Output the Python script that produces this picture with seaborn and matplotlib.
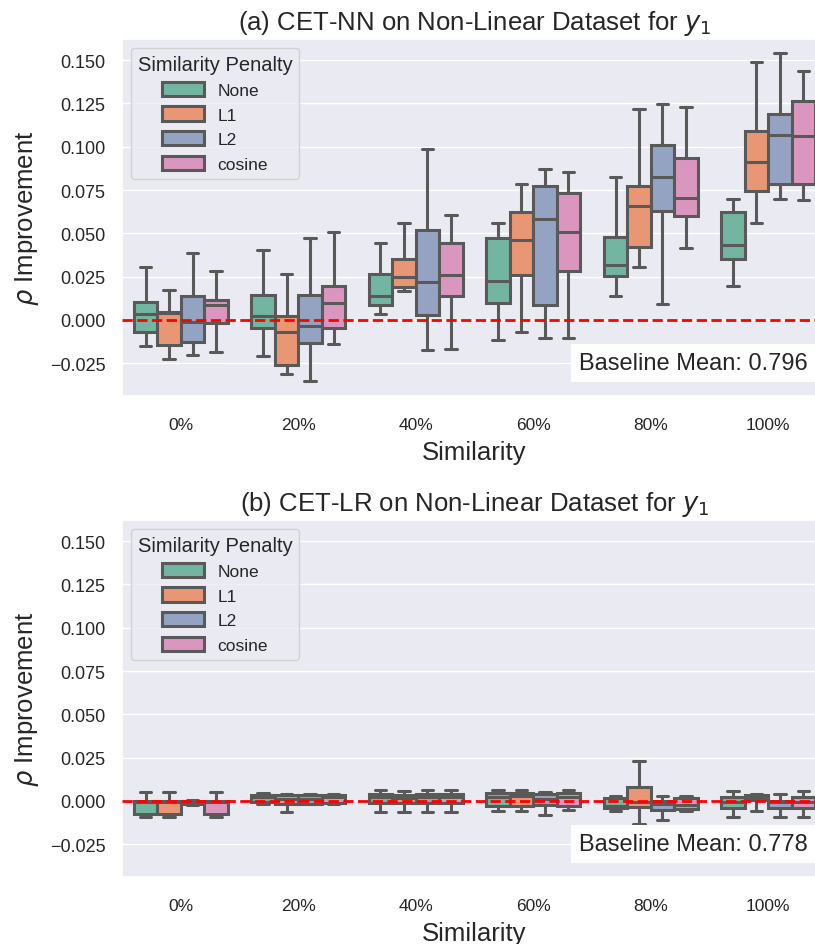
import numpy as np
import pandas as pd
import matplotlib
matplotlib.use("Agg")
import matplotlib.pyplot as plt
import seaborn as sns

similarity = ["0%", "20%", "40%", "60%", "80%", "100%"]
penalties = ["None", "L1", "L2", "cosine"]

# (a) CET-NN -- rows: similarity, cols: penalty (None, L1, L2, cosine)
nn_lo = [[-0.0152, -0.0225, -0.0202, -0.0187],
         [-0.0210, -0.0310, -0.0352, -0.0139],
         [0.0037, 0.0167, -0.0175, -0.0167],
         [-0.0114, -0.0067, -0.0104, -0.0104],
         [0.0137, 0.0306, 0.0092, 0.0414],
         [0.0195, 0.0558, 0.0699, 0.0693]]
nn_q1 = [[-0.0071, -0.0144, -0.0125, -0.0019],
         [-0.0044, -0.0260, -0.0133, -0.0044],
         [0.0087, 0.0189, 0.0029, 0.0137],
         [0.0098, 0.0260, 0.0087, 0.0281],
         [0.0256, 0.0420, 0.0627, 0.0602],
         [0.0352, 0.0747, 0.0785, 0.0785]]
nn_med = [[0.0035, 0.0040, -0.0010, 0.0087],
          [0.0021, -0.0067, -0.0037, 0.0096],
          [0.0140, 0.0250, 0.0221, 0.0260],
          [0.0223, 0.0462, 0.0583, 0.0510],
          [0.0319, 0.0656, 0.0824, 0.0704],
          [0.0433, 0.0910, 0.1068, 0.1064]]
nn_q3 = [[0.0102, 0.0048, 0.0137, 0.0117],
         [0.0144, 0.0021, 0.0144, 0.0194],
         [0.0266, 0.0352, 0.0521, 0.0445],
         [0.0472, 0.0622, 0.0772, 0.0733],
         [0.0477, 0.0775, 0.1010, 0.0935],
         [0.0622, 0.1089, 0.1189, 0.1263]]
nn_hi = [[0.0308, 0.0175, 0.0387, 0.0281],
         [0.0402, 0.0266, 0.0472, 0.0510],
         [0.0445, 0.0560, 0.0987, 0.0608],
         [0.0558, 0.0785, 0.0872, 0.0856],
         [0.0824, 0.1218, 0.1247, 0.1232],
         [0.0699, 0.1488, 0.1540, 0.1440]]

# (b) CET-LR
lr_lo = [[-0.0094, -0.0094, -0.0022, -0.0094],
         [-0.0020, -0.0065, -0.0020, -0.0020],
         [-0.0065, -0.0065, -0.0065, -0.0065],
         [-0.0060, -0.0060, -0.0081, -0.0050],
         [-0.0056, -0.0135, -0.0108, -0.0056],
         [-0.0090, -0.0060, -0.0090, -0.0090]]
lr_q1 = [[-0.0075, -0.0075, -0.0020, -0.0075],
         [-0.0008, -0.0017, -0.0015, -0.0012],
         [-0.0012, -0.0012, -0.0012, -0.0012],
         [-0.0027, -0.0027, -0.0023, -0.0027],
         [-0.0040, -0.0033, -0.0052, -0.0046],
         [-0.0040, 0.0006, -0.0040, -0.0040]]
lr_med = [[-0.0008, -0.0008, -0.0010, -0.0008],
          [0.0021, 0.0012, 0.0012, 0.0021],
          [0.0021, 0.0017, 0.0021, 0.0021],
          [0.0020, 0.0030, 0.0012, 0.0020],
          [-0.0027, -0.0004, -0.0017, -0.0021],
          [-0.0008, 0.0021, -0.0008, -0.0008]]
lr_q3 = [[-0.0003, -0.0003, 0.0001, -0.0003],
         [0.0035, 0.0036, 0.0035, 0.0035],
         [0.0040, 0.0035, 0.0040, 0.0040],
         [0.0046, 0.0046, 0.0040, 0.0046],
         [0.0015, 0.0079, 0.0002, 0.0015],
         [0.0021, 0.0036, 0.0002, 0.0021]]
lr_hi = [[0.0054, 0.0054, 0.0003, 0.0054],
         [0.0044, 0.0040, 0.0040, 0.0040],
         [0.0065, 0.0056, 0.0065, 0.0065],
         [0.0065, 0.0065, 0.0050, 0.0063],
         [0.0031, 0.0233, 0.0031, 0.0031],
         [0.0056, 0.0040, 0.0040, 0.0056]]

baseline_nn = 0.796
baseline_lr = 0.778

ytick_values = [-0.025, 0.0, 0.025, 0.05, 0.075, 0.1, 0.125, 0.15]


def to_frame(lo, q1, med, q3, hi):
    rows = []
    for i, s in enumerate(similarity):
        for j, p in enumerate(penalties):
            for v in (lo[i][j], q1[i][j], med[i][j], q3[i][j], hi[i][j]):
                rows.append({"Similarity": s, "Similarity Penalty": p, "value": v})
    return pd.DataFrame(rows)


df_nn = to_frame(nn_lo, nn_q1, nn_med, nn_q3, nn_hi)
df_lr = to_frame(lr_lo, lr_q1, lr_med, lr_q3, lr_hi)

sns.set_theme(style="darkgrid")
plt.rcParams["font.family"] = ["Liberation Sans", "DejaVu Sans"]
plt.rcParams["axes.unicode_minus"] = True

fig = plt.figure(figsize=(8.15, 9.45), dpi=100)
left, width, height = 122 / 815, 705 / 815, 357 / 945
ax1 = fig.add_axes([left, 1 - 397 / 945, width, height])
ax2 = fig.add_axes([left, 1 - 878 / 945, width, height])

panels = [
    (ax1, df_nn, "(a) CET-NN on Non-Linear Dataset for $y_1$", baseline_nn),
    (ax2, df_lr, "(b) CET-LR on Non-Linear Dataset for $y_1$", baseline_lr),
]

for ax, df, title, base in panels:
    sns.boxplot(data=df, x="Similarity", y="value", hue="Similarity Penalty",
                order=similarity, hue_order=penalties, palette="Set2",
                whis=(0, 100), showfliers=False, linewidth=2.2,
                saturation=0.75, ax=ax)
    ax.axhline(0, color="red", linestyle="--", linewidth=2, zorder=5)
    ax.set_ylim(-0.0439, 0.1622)
    ax.set_yticks(ytick_values)
    ax.set_yticklabels([f"{t:.3f}".replace("-", "\u2212") for t in ytick_values])
    ax.tick_params(axis="y", labelsize=13, pad=6)
    ax.tick_params(axis="x", labelsize=12.5, pad=9)
    ax.set_title(title, fontsize=18.5, pad=7)
    ax.set_xlabel("Similarity", fontsize=18.5, labelpad=6)
    ax.set_ylabel(r"$\rho$ Improvement", fontsize=18.5, labelpad=6)
    ax.text(0.973, 0.062, f"Baseline Mean: {base:.3f}", transform=ax.transAxes,
            ha="right", va="bottom", fontsize=17, zorder=6,
            bbox=dict(facecolor="white", edgecolor="none", pad=6))
    ax.legend(title="Similarity Penalty", loc="upper left",
              fontsize=12.5, title_fontsize=14.5, labelspacing=0.48,
              handlelength=2.4, handleheight=0.9)

fig.savefig("out.png", dpi=100)
